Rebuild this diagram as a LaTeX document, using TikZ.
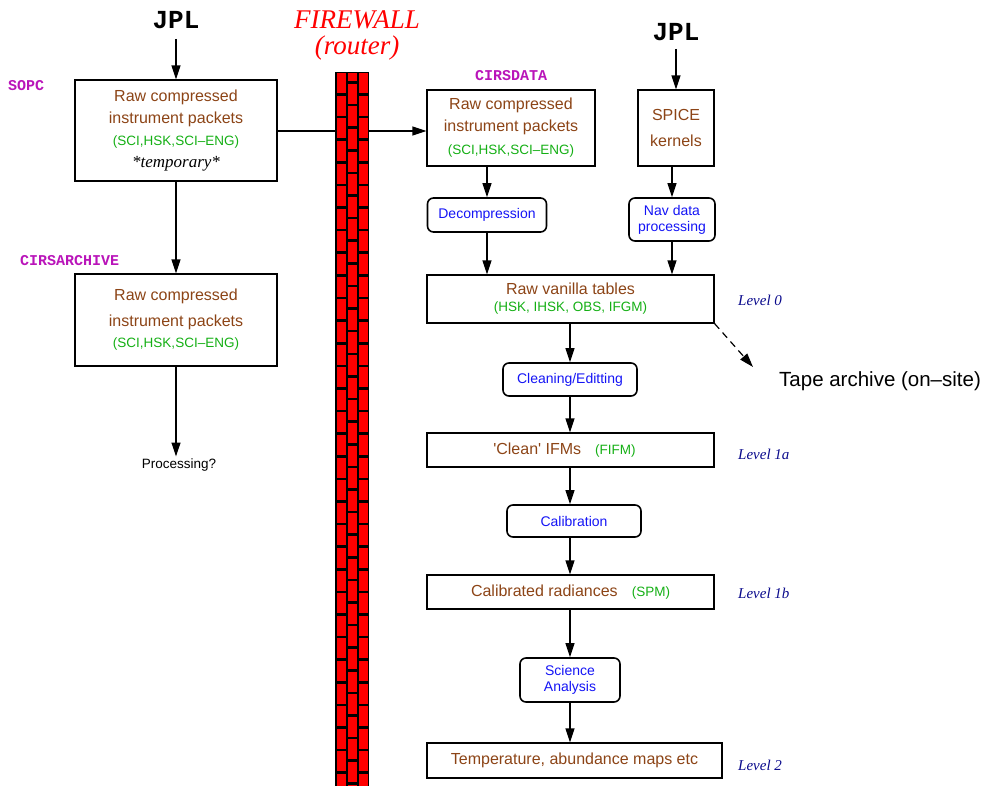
\documentclass[tikz,border=0pt]{standalone}
\usepackage{fontspec}
\setmainfont{Liberation Serif}
\setsansfont{Liberation Sans}
\setmonofont{Liberation Mono}
\usepackage{tikz}
\usetikzlibrary{positioning}
\usetikzlibrary{arrows.meta}
\definecolor{rawbrown}{RGB}{140,68,22}
\definecolor{pktgreen}{RGB}{20,175,20}
\definecolor{procblue}{RGB}{20,20,245}
\definecolor{sitemag}{RGB}{185,20,185}
\definecolor{levelblue}{RGB}{10,10,140}
\newcommand{\pkts}[1]{{\color{pktgreen}\fontsize{13.5}{13.5}\selectfont #1}}

\begin{document}
\begin{tikzpicture}[x=1pt, y=-1pt,
    every node/.style = {inner sep=0pt},
    box/.style = {draw, line width=1.1pt, font=\sffamily\fontsize{16}{21.5}\selectfont,
      text=rawbrown, align=center},
    procbox/.style = {draw, line width=1.6pt, rounded corners=6pt,
      font=\sffamily\fontsize{14}{16}\selectfont, text=procblue, align=center},
    site/.style = {font=\ttfamily\bfseries\fontsize{15}{15}\selectfont, text=sitemag},
    level/.style = {anchor=west, font=\itshape\fontsize{15}{15}\selectfont, text=levelblue},
    flow/.style = {-{Triangle[length=14pt,width=9pt]}, line width=1.2pt},
    brick/.style = {fill=red}]
  \path[use as bounding box, clip] (0,0) rectangle (988,786);

  \node[font=\ttfamily\bfseries\fontsize{26}{26}\selectfont] (jpl1) at (176,20) {JPL};
  \node[font=\ttfamily\bfseries\fontsize{26}{26}\selectfont] (jpl2) at (676,32) {JPL};
  \node[font=\itshape\fontsize{27}{27}\selectfont, text=red] (fw) at (357,20) {FIREWALL};
  \node[font=\itshape\fontsize{27}{27}\selectfont, text=red, below=6pt of fw] (router) {(router)};

  \node[site, anchor=west] (sopclbl) at (8,86) {SOPC};
  \node[site, anchor=west] (archlbl) at (20,261) {CIRSARCHIVE};
  \node[site, anchor=west] (datalbl) at (475,76) {CIRSDATA};

  \node[box, minimum width=202pt, minimum height=101pt, font=\sffamily\fontsize{16}{22}\selectfont] (sopc) at (176,130.5)
    {Raw compressed\\instrument packets\\\pkts{(SCI,HSK,SCI--ENG)}\\
     {\rmfamily\itshape\color{black}\fontsize{17}{17}\selectfont *temporary*}};
  \node[box, minimum width=202pt, minimum height=92pt] (archive) at (176,320)
    {Raw compressed\\[4pt]instrument packets\\\pkts{(SCI,HSK,SCI--ENG)}};
  \node[font=\sffamily\fontsize{13.5}{13.5}\selectfont, inner sep=2pt] (procq) at (179,465) {Processing?};

  \node[box, minimum width=168pt, minimum height=76pt] (cirsdata) at (511,128)
    {Raw compressed\\instrument packets\\[2pt]\pkts{(SCI,HSK,SCI--ENG)}};
  \node[box, minimum width=76pt, minimum height=76pt, font=\sffamily\fontsize{16}{26}\selectfont] (spice) at (676,128)
    {SPICE\\kernels};
  \node[procbox, minimum width=119pt, minimum height=34pt] (decomp) at (487,215) {Decompression};
  \node[procbox, minimum width=86pt, minimum height=43pt] (nav) at (672,219.5) {Nav data\\processing};
  \node[box, minimum width=287pt, minimum height=48pt, font=\sffamily\fontsize{16}{17}\selectfont] (vanilla) at (570.5,299)
    {Raw vanilla tables\\\pkts{(HSK, IHSK, OBS, IFGM)}};
  \node[procbox, minimum width=134pt, minimum height=33pt] (clean) at (570,379.5) {Cleaning/Editting};
  \node[box, minimum width=287pt, minimum height=34pt] (ifms) at (570.5,450)
    {\textquotesingle Clean\textquotesingle{} IFMs\hspace{14pt}\pkts{(FIFM)}\hspace{12pt}};
  \node[procbox, minimum width=134pt, minimum height=32pt] (calib) at (574,521) {Calibration};
  \node[box, minimum width=287pt, minimum height=34pt] (radiance) at (570.5,592)
    {Calibrated radiances\hspace{14pt}\pkts{(SPM)}};
  \node[procbox, minimum width=100pt, minimum height=44pt] (science) at (570,680) {Science\\Analysis};
  \node[box, minimum width=295pt, minimum height=35pt] (maps) at (574.5,760.5)
    {Temperature, abundance maps etc};

  \node[level] (lvl0) at (738,300) {Level 0};
  \node[level] (lvl1a) at (738,454) {Level 1a};
  \node[level] (lvl1b) at (738,593) {Level 1b};
  \node[level] (lvl2) at (738,765) {Level 2};
  \node[anchor=west, font=\sffamily\fontsize{20.5}{20.5}\selectfont] (tape) at (779,381) {Tape archive (on--site)};
  \coordinate (tapetip) at (753,367);

  \draw[flow, shorten <=10pt] (jpl1) -- (sopc);
  \draw[flow] (sopc) -- (archive);
  \draw[flow] (archive) -- (archive |- procq.north);
  \draw[flow] (sopc.east |- 0,131) -- (cirsdata.west |- 0,131);
  \draw[flow, shorten <=8pt] (jpl2) -- (spice);
  \draw[flow] (decomp |- cirsdata.south) -- (decomp);
  \draw[flow] (decomp) -- (decomp |- vanilla.north);
  \draw[flow] (nav |- spice.south) -- (nav);
  \draw[flow] (nav) -- (nav |- vanilla.north);
  \draw[flow] (clean |- vanilla.south) -- (clean);
  \draw[flow] (clean) -- (clean |- ifms.north);
  \draw[flow] (clean |- ifms.south) -- (clean |- calib.north);
  \draw[flow] (clean |- calib.south) -- (clean |- radiance.north);
  \draw[flow] (science |- radiance.south) -- (science);
  \draw[flow] (science) -- (science |- maps.north);
  \draw[flow, dash pattern=on 7pt off 5pt] (vanilla.south east) -- (tapetip);

  \fill (335,72) rectangle (369,786);
  \foreach \k in {0,...,32} {
    \fill[brick] (336.5,{72+\k*22.6+1.3}) rectangle (346.3,{72+(\k+1)*22.6-1.3});
    \fill[brick] (358.7,{72+\k*22.6+1.3}) rectangle (367.8,{72+(\k+1)*22.6-1.3});
    \fill[brick] (347.8,{max(73.5,60+\k*22.6+1.3)}) rectangle (357.4,{60+(\k+1)*22.6-1.3});
  }
\end{tikzpicture}
\end{document}
